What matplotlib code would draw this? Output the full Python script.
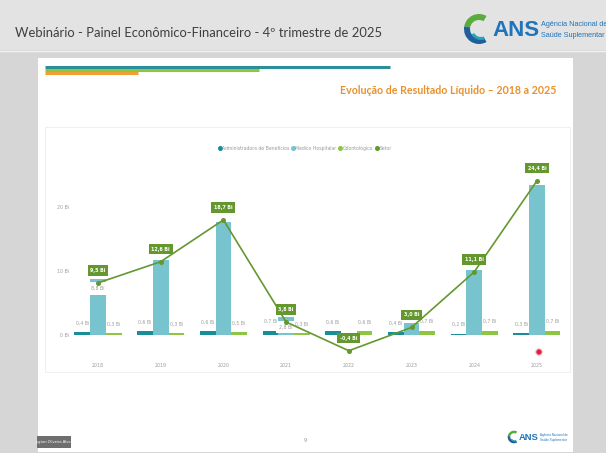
import matplotlib
matplotlib.use('Agg')
import matplotlib.pyplot as plt
import numpy as np
from matplotlib.patches import Rectangle, Wedge, Circle
from matplotlib.lines import Line2D

# ---------------- data ----------------
years = ['2018', '2019', '2020', '2021', '2022', '2023', '2024', '2025']
adm = [0.4, 0.6, 0.6, 0.7, 0.6, 0.4, 0.2, 0.3]          # Administradora de Benefícios
mh = [8.8, 11.7, 17.6, 2.8, np.nan, 1.9, 10.2, 23.4]     # Medico Hospitalar
odonto = [0.3, 0.3, 0.5, 0.3, 0.6, 0.7, 0.7, 0.7]        # Odontológico
setor = [9.5, 12.6, 18.7, 3.8, -0.4, 3.0, 11.1, 24.4]    # Setor
mh_label_shown = [True, False, False, True, False, False, False, False]
yticks = [0, 10, 20]
ytick_labels = ['0 Bi', '10 Bi', '20 Bi']
series_names = ['Administradora de Benefícios', 'Medico Hospitalar', 'Odontológico', 'Setor']

C_ADM = '#178e99'
C_MH = '#77c4cf'
C_OD = '#8dc641'
C_SET = '#64982e'

W, H = 606, 453
fig = plt.figure(figsize=(6.06, 4.53), dpi=100)
fig.patch.set_facecolor('#d6d6d6')
renderer = fig.canvas.get_renderer()

bg = fig.add_axes([0, 0, 1, 1])
bg.set_xlim(0, W)
bg.set_ylim(H, 0)
bg.axis('off')

def rect(x0, y0, x1, y1, **kw):
    bg.add_patch(Rectangle((x0, y0), x1 - x0, y1 - y0, **kw))

# header
rect(0, 0, W, 50, fc='#e3e3e3', ec='none')
bg.plot([0, W], [50.5, 50.5], color='#f2f2f2', lw=1)
bg.text(15, 33, 'Webinário - Painel Econômico-Financeiro - 4º trimestre de 2025',
        fontsize=9.4, color='#3f3f3f', va='center', family=['Lato', 'DejaVu Sans'])

NARROW = ['Liberation Sans Narrow', 'Liberation Sans']

# logo
def logo(cx, cy, s, tx, ty):
    bg.add_patch(Wedge((cx, cy), 15 * s, 190, 300, width=6 * s, fc='#5cab3e', ec='none'))
    bg.add_patch(Wedge((cx, cy), 15 * s, 60, 190, width=6 * s, fc='#1e5f9c', ec='none'))
    bg.add_patch(Wedge((cx + 2 * s, cy), 11 * s, 70, 150, width=3 * s, fc='#2aa3b8', ec='none'))
    t = bg.text(tx, ty, 'ANS', fontsize=16 * s, weight='bold', color='#1f74bb',
                va='center', ha='left', family=NARROW)
    ext = t.get_window_extent(renderer)
    x_after = bg.transData.inverted().transform((ext.x1, ext.y0))[0] + 1.5 * s
    bg.text(x_after, ty - 5.5 * s, 'Agência Nacional de', fontsize=5.2 * s, color='#1f74bb',
            va='center', family=NARROW)
    bg.text(x_after, ty + 5.5 * s, 'Saúde Suplementar', fontsize=5.2 * s, color='#1f74bb',
            va='center', family=NARROW)

logo(479, 29, 1.0, 492, 30)

# slide
rect(38, 58, 573, 452, fc='white', ec='none')
bg.plot([45, 390], [66.5, 66.5], color='#2a8f9a', lw=2.2, solid_capstyle='butt')
bg.plot([45, 259], [69.5, 69.5], color='#8dc641', lw=2.2, solid_capstyle='butt')
bg.plot([45, 138], [72.5, 72.5], color='#f0a033', lw=2.2, solid_capstyle='butt')
bg.text(557, 90, 'Evolução de Resultado Líquido – 2018 a 2025', fontsize=7.7, color='#e8912d',
        ha='right', va='center', weight='bold', family=['Lato', 'DejaVu Sans'])

# inner chart panel
rect(45, 127, 570, 372, fc='white', ec='#efefef', lw=0.7)

# footer
rect(37, 436, 71, 448, fc='#6e6e6e', ec='none')
bg.text(54, 442, 'ygton Oliveira Alves', fontsize=2.6, color='white', ha='center', va='center')
bg.text(305, 441, '9', fontsize=3.5, color='#999999', ha='center', va='center')
logo(514, 437, 0.42, 519, 437.5)

# ---------------- chart ----------------
L, R, T, B = 72, 565, 170, 355
ax = fig.add_axes([L / W, 1 - B / H, (R - L) / W, (B - T) / H])
ax.patch.set_alpha(0)
x = np.arange(len(years))
ax.set_xlim((L - 98) / 62.7, (R - 98) / 62.7)
ax.set_ylim((335 - B) / 6.4, (335 - T) / 6.4)

bw = 0.25
ax.bar(x - bw, adm, bw, color=C_ADM, zorder=2)
ax.bar(x, mh, bw, color=C_MH, zorder=2)
ax.bar(x + bw, odonto, bw, color=C_OD, zorder=2)

def fmt(v):
    return f'{v:.1f}'.replace('.', ',') + ' Bi'

lab_kw = dict(fontsize=3.3, color='#9a9a9a', ha='center', va='center', textcoords='offset points')
for i in range(len(years)):
    ax.annotate(fmt(adm[i]), (x[i] - bw, adm[i]), xytext=(0, 6.5), zorder=6, **lab_kw)
    ax.annotate(fmt(odonto[i]), (x[i] + bw, odonto[i]), xytext=(0, 6.5), zorder=6, **lab_kw)
    if mh_label_shown[i]:
        ax.annotate(fmt(mh[i]), (x[i], mh[i]), xytext=(0, -7), zorder=4,
                    bbox=dict(boxstyle='square,pad=0.8', fc='white', ec='none'), **lab_kw)

ax.set_yticks(yticks)
ax.set_yticklabels(ytick_labels)
ax.set_xticks(x)
ax.set_xticklabels(years)
ax.tick_params(axis='both', length=0, labelsize=3.4, labelcolor='#9c9c9c')
ax.tick_params(axis='x', pad=6)
ax.tick_params(axis='y', pad=2)
for s in ax.spines.values():
    s.set_visible(False)

ax2 = ax.twinx()
ax2.set_ylim((348 - B) / 6.85, (348 - T) / 6.85)
ax2.plot(x, setor, color=C_SET, lw=1.2, marker='o', ms=2.6, zorder=3)
for i in range(len(years)):
    ax2.annotate(fmt(setor[i]), (x[i], setor[i]), xytext=(0, 9), textcoords='offset points',
                 fontsize=3.4, color='white', weight='bold', ha='center', va='center', zorder=5,
                 bbox=dict(boxstyle='square,pad=0.55', fc=C_SET, ec='none'))
ax2.set_yticks([])
for s in ax2.spines.values():
    s.set_visible(False)

handles = [Line2D([], [], ls='none', marker='o', ms=2.6, color=c) for c in (C_ADM, C_MH, C_OD, C_SET)]
fig.legend(handles, series_names, loc='center', bbox_to_anchor=(305 / W, 1 - 148 / H), ncol=4,
           frameon=False, fontsize=3.3, handlelength=0.5, handletextpad=0.25, columnspacing=0.6,
           labelcolor='#9a9a9a')

# pointer dot
bg.add_patch(Circle((539, 352), 3.2, fc='#e0213a', ec='#f7c0c8', lw=0.8, zorder=10))

fig.savefig('out.png', dpi=100, facecolor=fig.get_facecolor())
